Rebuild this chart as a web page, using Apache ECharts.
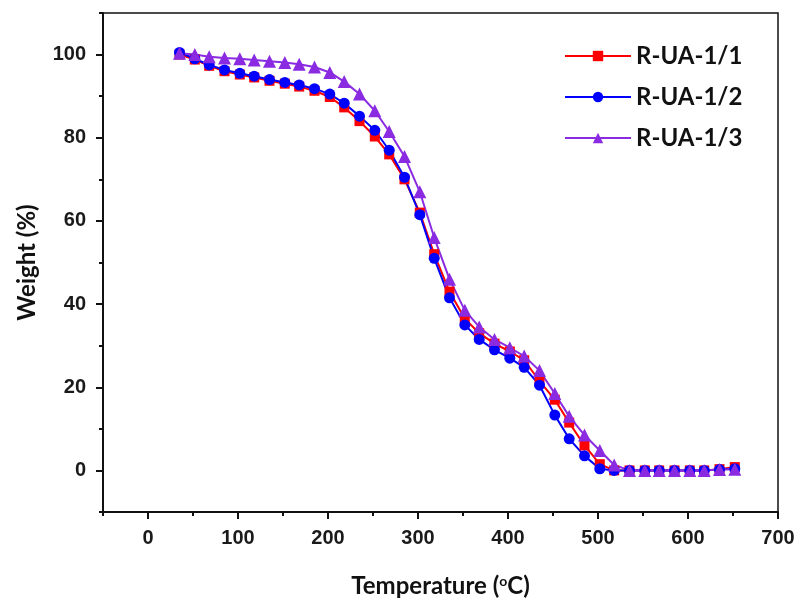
<!DOCTYPE html>
<html>
<head>
<meta charset="utf-8">
<script src="https://cdn.jsdelivr.net/npm/echarts@6/dist/echarts.min.js"></script>
<style>
  html, body { margin: 0; padding: 0; background: #fff; }
  #chart { width: 801px; height: 604px; }
</style>
</head>
<body>
<div id="chart"></div>
<script>
// temperatures (°C), shared by the three TGA curves
let temps = [35, 52, 68, 85, 102, 118, 135, 152, 168, 185, 202, 218, 235, 252, 268, 285, 302, 318, 335,
  352, 368, 385, 402, 418, 435, 452, 468, 485, 502, 518, 535, 552, 568, 585, 602, 618, 635, 652]

// weight (%)
let ua11 = [100, 98.8, 97.3, 96, 95.2, 94.5, 93.7, 93, 92.3, 91.3, 89.8, 87.3, 84, 80.3, 76, 70, 62, 52, 43,
  36.5, 33, 30.5, 28.6, 26.5, 21.5, 17, 11.5, 6, 1.5, 0, 0, 0, 0, 0, 0, 0, 0.3, 0.8]
let ua12 = [100.5, 99, 97.5, 96.3, 95.5, 94.8, 94, 93.3, 92.7, 91.8, 90.5, 88.3, 85.2, 81.8, 77, 70.5, 61.5, 51, 41.5,
  35, 31.5, 29, 27, 24.8, 20.5, 13.3, 7.6, 3.5, 0.4, 0, 0, 0, 0, 0, 0, 0, 0.2, 0.4]
let ua13 = [100.3, 100, 99.5, 99.2, 99, 98.7, 98.4, 98.1, 97.7, 97, 95.7, 93.5, 90.5, 86.5, 81.5, 75.5, 67, 56, 46,
  38.5, 34.5, 31.5, 29.5, 27.5, 24, 18.5, 13, 8.5, 4.8, 1.3, 0, 0, 0, 0, 0, 0, 0.2, 0.3]

let names = ['R-UA-1/1', 'R-UA-1/2', 'R-UA-1/3']

let xMajor = [0, 100, 200, 300, 400, 500, 600, 700]
let xMinor = [-50, 50, 150, 250, 350, 450, 550, 650]
let yMajor = [0, 20, 40, 60, 80, 100]
let yMinor = [-10, 10, 30, 50, 70, 90, 110]

let $ = a => document.querySelector(a)

let labelFont = { fontFamily: 'Liberation Sans', fontWeight: 'bold', fontSize: 20, color: '#1a1a1a' }
let titleFont = { fontFamily: 'Lato', fontWeight: 'bold', fontSize: 24, color: '#111' }

function makeSeries(name, vals, symbol, size, color) {
  return {
    name: name,
    type: 'line',
    symbol: symbol,
    symbolSize: size,
    data: temps.map((t, i) => [t, vals[i]]),
    lineStyle: { color: color, width: 2 },
    itemStyle: { color: color },
    emphasis: { disabled: true }
  }
}

echarts.init($('#chart')).setOption({
  animation: false,
  backgroundColor: '#fff',
  grid: {
    left: 103, right: 23, top: 13, bottom: 92,
    outerBoundsMode: 'none',
    show: true,
    borderColor: '#111',
    borderWidth: 1.5
  },
  legend: {
    orient: 'vertical',
    left: 559,
    top: 39,
    itemWidth: 66,
    itemHeight: 13,
    itemGap: 17,
    data: names,
    textStyle: titleFont
  },
  xAxis: [
    {
      type: 'value', min: -50, max: 700, interval: 50,
      name: '{a|Temperature (}{s|o}{a|C)}',
      nameLocation: 'middle',
      nameGap: 62,
      nameTextStyle: {
        rich: {
          a: titleFont,
          s: { fontFamily: 'Lato', fontWeight: 'bold', fontSize: 14, color: '#111', verticalAlign: 'top' }
        }
      },
      axisLine: { show: true, onZero: false, lineStyle: { color: '#111', width: 2 } },
      axisTick: { show: true, customValues: xMajor, length: 7, lineStyle: { color: '#111', width: 2 } },
      axisLabel: Object.assign({ customValues: xMajor, margin: 16 }, labelFont),
      splitLine: { show: false }
    },
    {
      type: 'value', min: -50, max: 700, interval: 50, position: 'bottom',
      axisLine: { show: false, onZero: false },
      axisTick: { show: true, customValues: xMinor, length: 4, lineStyle: { color: '#111', width: 2 } },
      axisLabel: { show: false },
      splitLine: { show: false }
    }
  ],
  yAxis: [
    {
      type: 'value', min: -10, max: 110, interval: 10,
      name: 'Weight (%)',
      nameLocation: 'middle',
      nameGap: 64,
      nameTextStyle: titleFont,
      axisLine: { show: true, onZero: false, lineStyle: { color: '#111', width: 2 } },
      axisTick: { show: true, customValues: yMajor, length: 7, lineStyle: { color: '#111', width: 2 } },
      axisLabel: Object.assign({ customValues: yMajor, margin: 17 }, labelFont),
      splitLine: { show: false }
    },
    {
      type: 'value', min: -10, max: 110, interval: 10, position: 'left',
      axisLine: { show: false, onZero: false },
      axisTick: { show: true, customValues: yMinor, length: 4, lineStyle: { color: '#111', width: 2 } },
      axisLabel: { show: false },
      splitLine: { show: false }
    }
  ],
  series: [
    makeSeries(names[0], ua11, 'rect', 10, '#ff0000'),
    makeSeries(names[1], ua12, 'circle', 11, '#0000ff'),
    makeSeries(names[2], ua13, 'triangle', 13, '#8a2be2')
  ]
})
</script>
</body>
</html>
